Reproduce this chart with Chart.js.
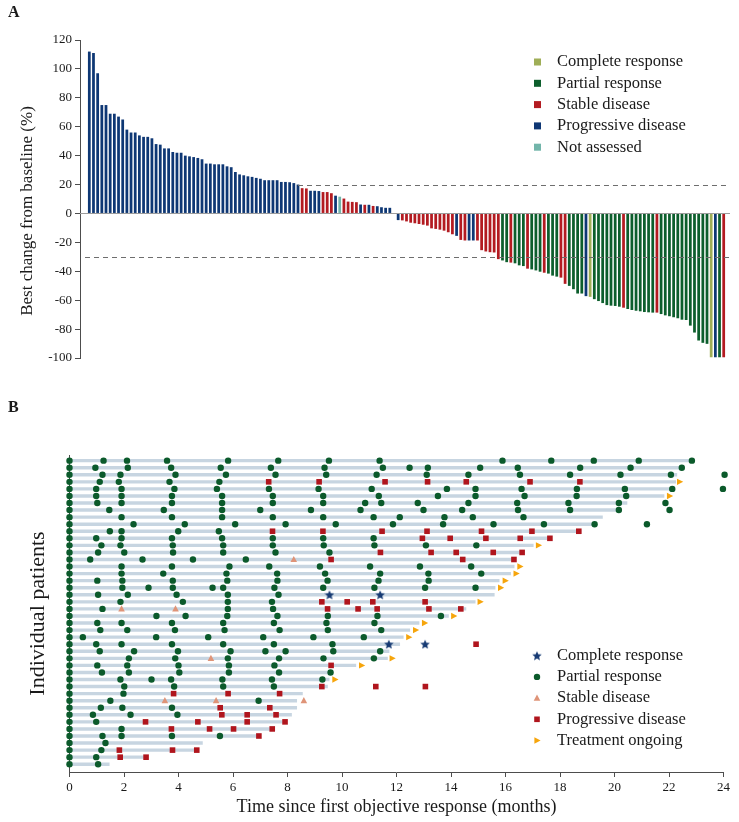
<!DOCTYPE html>
<html>
<head>
<meta charset="utf-8">
<script src="https://cdn.jsdelivr.net/npm/chart.js@4.4.1/dist/chart.umd.min.js"></script>
<style>
  html, body { margin: 0; padding: 0; background: #fff; }
  #panel-a { position: absolute; left: 0; top: 0; width: 739px; height: 395px; }
  #panel-b { position: absolute; left: 0; top: 395px; width: 739px; height: 427px; }
</style>
</head>
<body>
<div id="panel-a"><canvas id="waterfall"></canvas></div>
<div id="panel-b"><canvas id="swimmer"></canvas></div>
<script>
(function () {
  'use strict';

  // ---- panel A: best change from baseline, one bar per patient ----
  var bestChange = [
    112, 111, 97, 75, 75, 69, 69, 67, 65, 58, 56, 56, 54, 53, 53, 52, 48, 47.6, 45, 45,
    42.5, 42, 42, 40, 39.5, 39, 38.4, 37.5, 34.5, 34.5, 34, 34, 34, 32.6, 32, 28.7, 27, 26.4, 25.7, 25.3,
    24.6, 24, 23, 23, 23, 23, 21.8, 21.8, 21.6, 21, 20,
    17.5, 17.3, 15.7, 15.7, 15.5, 14.8, 14.8, 14, 12.3, 11.6, 10.3, 8.2, 8, 7.8, 6.2, 6, 6, 5.2, 5,
    4.3, 3.9, 3.9, 0,
    -4.6, -4.8, -5.5, -6.4, -6.8, -7.3, -7.8, -8.4, -10.3, -10.7, -11.2, -11.9, -13, -14.4, -15.5,
    -18.3, -18.7, -18.7, -18.7, -18.7, -25.4, -26.3, -26.8, -27, -31.6,
    -32.5, -33.7, -34, -34.5, -35.9, -36.4, -38.2, -38.7, -39.4, -40.3, -41, -41.6, -43, -43.7, -44.4,
    -48.7, -50.1, -52.4, -55.4, -55.4, -57.2, -57.7, -59.3, -60.6, -62, -63.4, -63.8, -64, -64.5, -65.2,
    -66.1, -66.8, -67.3, -67.7, -68.2, -68.4, -68.6, -68.6, -69.6, -70.5, -71.1, -71.8, -72.5, -73.5, -73.7,
    -77.6, -82.4, -87.9, -89.5, -90.2, -99.5, -99.5, -99.5, -99.5
  ];
  var bestResponse = [
    'PD','PD','PD','PD','PD','PD','PD','PD','PD','PD','PD','PD','PD','PD','PD','PD','PD','PD','PD','PD',
    'PD','PD','PD','PD','PD','PD','PD','PD','PD','PD','PD','PD','PD','PD','PD','PD','PD','PD','PD','PD',
    'PD','PD','PD','PD','PD','PD','PD','PD','PD','PD','PD',
    'SD','SD','PD','PD','PD','SD','SD','SD','PD','NA','SD','SD','SD','SD','PD','SD','PD','SD','PD',
    'PD','PD','PD','SD',
    'PD','SD','SD','SD','SD','SD','SD','SD','SD','SD','SD','SD','SD','SD','PD',
    'SD','SD','PD','PD','SD','SD','SD','SD','SD','SD',
    'PR','PR','SD','PR','PR','PR','SD','PR','PR','PR','SD','PR','PR','PR','SD',
    'SD','PR','PR','PR','PR','PD','CR','PR','PR','PR','PR','PR','PR','PR','SD',
    'PR','PR','PR','PR','PR','PR','PR','SD','PR','PR','PR','PR','PR','PR','PR',
    'PR','PR','PR','PR','PR','CR','PD','PR','SD'
  ];
  var responseOrder = ['CR', 'PR', 'SD', 'PD', 'NA'];
  var responseNames = ['Complete response', 'Partial response', 'Stable disease', 'Progressive disease', 'Not assessed'];
  var upperCut = 20;
  var lowerCut = -30;

  // ---- panel B: swimmer plot, one lane per patient (top to bottom) ----
  var laneEnds = [
    22.8, 22.47, 22.3, 22.26, 22.2, 21.83, 20.47, 20.2, 19.57, 19.3, 18.78, 17.7, 17.03, 16.7, 16.39,
    16.33, 16.2, 15.78, 15.63, 15.6, 14.9, 14.56, 13.92, 12.84, 12.5, 12.26, 12.13, 11.74, 11.68, 10.52,
    9.6, 9.54, 9.48, 8.56, 8.35, 8.35, 8.16, 7.95, 7.46, 6.95, 4.89, 4.75, 2.87, 1.47
  ];
  var partialAt = [
    [0, 1.25, 2.11, 3.58, 5.82, 7.66, 9.52, 11.38, 15.89, 17.68, 19.24, 20.89, 22.84],
    [0, 0.95, 2.14, 3.73, 5.55, 7.39, 9.36, 11.5, 12.48, 13.15, 15.07, 16.45, 18.74, 20.59, 22.47],
    [0, 1.21, 1.87, 3.89, 5.74, 7.56, 9.42, 11.27, 13.11, 14.64, 16.53, 18.37, 20.22, 22.07, 24.04],
    [0, 1.11, 1.81, 3.67, 5.5],
    [0, 0.98, 1.91, 3.85, 5.41, 7.32, 9.14, 11.09, 13.85, 14.9, 16.59, 18.62, 20.38, 22.12, 23.98],
    [0, 0.98, 1.91, 3.76, 5.6, 7.46, 9.31, 11.35, 13.52, 14.9, 16.7, 18.61, 20.43],
    [0, 1.02, 1.91, 3.76, 5.6, 7.46, 9.31, 10.85, 11.44, 12.78, 14.64, 16.43, 18.31, 20.16, 21.87],
    [0, 1.46, 3.46, 5.6, 7.0, 8.86, 10.68, 12.99, 14.41, 16.46, 18.37, 20.16, 22.02],
    [0, 1.91, 3.76, 5.6, 7.46, 9.31, 11.16, 12.12, 13.76, 14.8, 16.66],
    [0, 2.35, 4.23, 6.08, 7.93, 9.77, 11.87, 13.71, 15.56, 17.41, 19.27, 21.19],
    [0, 1.48, 1.91, 3.99, 5.48],
    [0, 0.98, 1.91, 3.76, 5.6, 7.46, 9.31, 11.16],
    [0, 1.17, 1.87, 3.79, 5.64, 7.46, 9.33, 11.19, 13.08, 14.93],
    [0, 1.05, 2.01, 3.8, 5.64, 7.56, 9.54],
    [0, 0.76, 2.68, 4.53, 6.47],
    [0, 1.91, 3.76, 5.87, 7.33, 9.19, 11.03, 12.86, 14.74],
    [0, 1.91, 3.44, 5.76, 7.62, 9.38, 11.4, 13.17, 15.11],
    [0, 1.02, 1.94, 3.79, 5.79, 7.63, 9.47, 11.34, 13.18],
    [0, 1.94, 2.9, 3.79, 5.25, 5.64, 7.52, 9.31, 11.19, 13.05, 14.9],
    [0, 1.05, 2.14, 3.93, 5.81, 7.67],
    [0, 1.87, 4.16, 5.81, 7.43],
    [0, 1.21, 5.81, 7.47],
    [0, 3.19, 4.26, 5.79, 7.63, 9.48, 11.3, 13.63],
    [0, 1.02, 1.91, 3.76, 5.64, 7.5, 9.43, 11.19],
    [0, 1.13, 2.12, 3.87, 5.69, 7.71, 9.48, 11.44],
    [0, 0.49, 3.18, 5.09, 7.11, 8.95, 10.8],
    [0, 0.98, 1.91, 3.76, 5.64, 7.5, 9.65],
    [0, 1.11, 2.37, 3.98, 5.91, 7.19, 7.93, 9.68, 11.4],
    [0, 2.18, 3.88, 5.81, 7.69, 9.32, 11.17],
    [0, 1.02, 2.12, 4.0, 5.85, 7.52],
    [0, 1.19, 2.18, 4.03, 5.85, 7.69, 9.58],
    [0, 1.87, 3.01, 3.73, 5.61, 7.43, 9.28],
    [0, 2.01, 3.84, 5.64, 7.5],
    [0, 1.98],
    [0, 1.5, 6.94],
    [0, 1.15, 1.94, 3.76],
    [0, 0.86, 2.24, 3.96],
    [0, 0.98],
    [0, 1.91],
    [0, 1.21, 1.91, 3.76, 5.52],
    [0, 1.32],
    [0, 1.17],
    [0, 0.98],
    [0, 1.05]
  ];
  var progressionAt = [
    [], [], [], [7.31, 9.16, 11.58, 13.14, 14.56, 16.9, 18.73], [], [], [], [], [], [],
    [7.45, 9.3, 11.47, 13.12, 15.12, 16.97, 18.69], [12.95, 13.97, 15.28, 16.54, 17.63], [],
    [11.41, 13.27, 14.19, 15.55, 16.61], [9.6, 14.43, 16.31], [], [], [], [], [],
    [9.26, 10.19, 11.13, 13.05], [9.47, 10.59, 11.29, 13.19, 14.36], [], [], [], [], [14.92], [], [],
    [9.6], [], [], [9.26, 11.24, 13.06], [3.82, 5.82, 7.71], [], [5.53, 7.35], [5.59, 6.52, 7.58],
    [2.79, 4.71, 6.52, 7.91], [3.74, 5.14, 6.02, 7.44], [6.95], [], [1.83, 3.78, 4.67], [1.86, 2.81], []
  ];
  // [lane, month]
  var completeAt = [[19, 9.54], [19, 11.4], [26, 11.72], [26, 13.05]];
  var stableAt = [[14, 8.23], [21, 1.91], [21, 3.89], [28, 5.19], [34, 3.5], [34, 5.38], [34, 8.6]];
  var ongoingAt = [
    null, null, null, 22.39, null, 22.02, null, null, null, null, null, null, 17.21, null, null,
    16.53, 16.39, 15.99, 15.82, null, 15.07, null, 14.1, 13.03, 12.7, 12.45, null, null, 11.84, 10.72,
    null, 9.74, null, null, null, null, null, null, null, null, null, null, null, null
  ];

  var serif = "'Liberation Serif', 'Times New Roman', serif";
  var ink = '#1a1a1a';
  var axisGrey = '#4d4d4d';
  var barColors = { CR: '#9fae57', PR: '#0c5e2c', SD: '#b31b21', PD: '#0e3774', NA: '#72b5aa' };
  var markColors = { CR: '#163a73', PR: '#0b5a2b', SD: '#df9478', PD: '#b0151d', ON: '#f6a50c' };

  function makeStar(size, color) {
    var c = document.createElement('canvas');
    c.width = size;
    c.height = size;
    var g = c.getContext('2d');
    var r = size / 2, inner = r * 0.45;
    g.fillStyle = color;
    g.beginPath();
    for (var i = 0; i < 10; i++) {
      var rad = i % 2 === 0 ? r : inner;
      var a = -Math.PI / 2 + i * Math.PI / 5;
      g.lineTo(r + rad * Math.cos(a), r + 0.4 + rad * Math.sin(a));
    }
    g.closePath();
    g.fill();
    return c;
  }
  var starMark = makeStar(10, markColors.CR);

  function drawMark(ctx, kind, x, y) {
    if (kind === 'CR') {
      ctx.drawImage(starMark, x - 5, y - 5);
      return;
    }
    ctx.fillStyle = markColors[kind];
    ctx.beginPath();
    if (kind === 'PR') {
      ctx.arc(x, y, 3.2, 0, Math.PI * 2);
    } else if (kind === 'PD') {
      ctx.rect(x - 2.8, y - 2.8, 5.6, 5.6);
    } else if (kind === 'SD') {
      ctx.moveTo(x, y - 3.6); ctx.lineTo(x + 3.3, y + 2.6); ctx.lineTo(x - 3.3, y + 2.6);
    } else {
      ctx.moveTo(x + 3.6, y); ctx.lineTo(x - 2.6, y - 3.2); ctx.lineTo(x - 2.6, y + 3.2);
    }
    ctx.closePath();
    ctx.fill();
  }

  function panelLetter(letter) {
    return {
      id: 'letter' + letter,
      afterDraw: function (chart) {
        var ctx = chart.ctx;
        ctx.save();
        ctx.font = 'bold 16px ' + serif;
        ctx.fillStyle = ink;
        ctx.textBaseline = 'middle';
        ctx.fillText(letter, 8, 13);
        ctx.restore();
      }
    };
  }

  var waterfallGuides = {
    id: 'waterfallGuides',
    afterDatasetsDraw: function (chart) {
      var ctx = chart.ctx, area = chart.chartArea;
      var xs = chart.scales.x, ys = chart.scales.y;
      ctx.save();
      ctx.lineWidth = 1;
      ctx.strokeStyle = '#9c9c9c';
      var y0 = Math.round(ys.getPixelForValue(0)) + 0.5;
      ctx.beginPath(); ctx.moveTo(area.left, y0); ctx.lineTo(area.right + 2, y0); ctx.stroke();
      ctx.strokeStyle = '#6e6e6e';
      ctx.setLineDash([5, 4]);
      var firstBelow = 1;
      for (var i = 0; i < bestChange.length; i++) {
        if (bestChange[i] <= upperCut) { firstBelow = i + 1; break; }
      }
      var yu = Math.round(ys.getPixelForValue(upperCut)) + 0.5;
      ctx.beginPath(); ctx.moveTo(xs.getPixelForValue(firstBelow), yu); ctx.lineTo(area.right + 2, yu); ctx.stroke();
      var yl = Math.round(ys.getPixelForValue(lowerCut)) + 0.5;
      ctx.beginPath(); ctx.moveTo(area.left + 5, yl); ctx.lineTo(area.right + 2, yl); ctx.stroke();
      ctx.restore();
    },
    afterDraw: function (chart) {
      var ctx = chart.ctx, area = chart.chartArea;
      ctx.save();
      ctx.font = '16.5px ' + serif;
      ctx.textBaseline = 'middle';
      responseOrder.forEach(function (code, i) {
        var y = 62 + i * 21.3;
        ctx.fillStyle = barColors[code];
        ctx.fillRect(534, y - 3.5, 7, 7);
        ctx.fillStyle = ink;
        ctx.fillText(responseNames[i], 557, y);
      });
      // y axis title, centred a little below the middle as in the figure
      ctx.translate(28, (area.top + area.bottom) / 2 + 12);
      ctx.rotate(-Math.PI / 2);
      ctx.textAlign = 'center';
      ctx.font = '17px ' + serif;
      ctx.fillText('Best change from baseline (%)', 0, 0);
      ctx.restore();
    }
  };

  new Chart(document.getElementById('waterfall'), {
    type: 'bar',
    data: {
      datasets: [{
        data: bestChange.map(function (v, i) { return { x: i + 1, y: v }; }),
        backgroundColor: bestResponse.map(function (c) { return barColors[c]; }),
        barPercentage: 0.66,
        categoryPercentage: 1
      }]
    },
    options: {
      responsive: true,
      maintainAspectRatio: false,
      animation: false,
      layout: { padding: { left: 16, right: 11, top: 40, bottom: 37 } },
      plugins: { legend: { display: false }, tooltip: { enabled: false } },
      scales: {
        x: { type: 'linear', offset: false, min: -1.23, max: 154.03, display: false },
        y: {
          min: -100,
          max: 120,
          ticks: { stepSize: 20, color: ink, padding: 3, font: { family: serif, size: 13 } },
          grid: { drawOnChartArea: false, drawTicks: true, tickLength: 5, color: axisGrey },
          border: { color: axisGrey },
          afterFit: function (scale) { scale.width = 64; }
        }
      }
    },
    plugins: [waterfallGuides, panelLetter('A')]
  });

  // ---- swimmer ----
  function lanePoints(rows) {
    var pts = [];
    rows.forEach(function (months, lane) {
      months.forEach(function (m) { pts.push({ x: m, y: lane }); });
    });
    return pts;
  }
  function pairPoints(pairs) {
    return pairs.map(function (p) { return { x: p[1], y: p[0] }; });
  }

  var laneSets = laneEnds.map(function (end, lane) {
    return {
      type: 'line',
      data: [{ x: 0, y: lane }, { x: end, y: lane }],
      borderColor: '#c7d5e1',
      borderWidth: 3.4,
      pointRadius: 0,
      order: 10
    };
  });

  var markerSets = [
    { kind: 'PR', data: lanePoints(partialAt) },
    { kind: 'PD', data: lanePoints(progressionAt) },
    { kind: 'SD', data: pairPoints(stableAt) },
    { kind: 'CR', data: pairPoints(completeAt) },
    {
      kind: 'ON',
      data: ongoingAt.map(function (m, lane) { return m === null ? null : { x: m, y: lane }; })
        .filter(function (p) { return p !== null; })
    }
  ].map(function (s) {
    return { type: 'scatter', kind: s.kind, data: s.data, pointRadius: 0, order: 1 };
  });

  var swimmerMarks = {
    id: 'swimmerMarks',
    afterDatasetsDraw: function (chart) {
      var ctx = chart.ctx, xs = chart.scales.x, ys = chart.scales.y;
      ctx.save();
      chart.data.datasets.forEach(function (ds) {
        if (!ds.kind) return;
        ds.data.forEach(function (p) {
          drawMark(ctx, ds.kind, xs.getPixelForValue(p.x), ys.getPixelForValue(p.y));
        });
      });
      ctx.restore();
    },
    afterDraw: function (chart) {
      var ctx = chart.ctx;
      var kinds = ['CR', 'PR', 'SD', 'PD', 'ON'];
      var names = ['Complete response', 'Partial response', 'Stable disease', 'Progressive disease', 'Treatment ongoing'];
      ctx.save();
      ctx.font = '16.5px ' + serif;
      ctx.textBaseline = 'middle';
      kinds.forEach(function (k, i) {
        var y = 260.7 + i * 21.2;
        drawMark(ctx, k, 537, y);
        ctx.fillStyle = ink;
        ctx.fillText(names[i], 557, y);
      });
      ctx.restore();
    }
  };

  new Chart(document.getElementById('swimmer'), {
    type: 'scatter',
    data: { datasets: laneSets.concat(markerSets) },
    options: {
      responsive: true,
      maintainAspectRatio: false,
      animation: false,
      layout: { padding: { left: 22, right: 15.5, top: 60, bottom: 0 } },
      plugins: { legend: { display: false }, tooltip: { enabled: false } },
      scales: {
        x: {
          type: 'linear',
          min: 0,
          max: 24,
          ticks: { stepSize: 2, color: ink, padding: 3, font: { family: serif, size: 13 } },
          grid: { drawOnChartArea: false, drawTicks: true, tickLength: 5, color: axisGrey },
          border: { color: axisGrey },
          title: {
            display: true,
            text: 'Time since first objective response (months)',
            color: ink,
            padding: { top: 0, bottom: 4 },
            font: { family: serif, size: 18 }
          },
          afterFit: function (scale) { scale.height = 50; }
        },
        y: {
          type: 'linear',
          reverse: true,
          min: -0.8,
          max: 44.1,
          ticks: { display: false },
          grid: { display: false },
          border: { color: axisGrey },
          title: {
            display: true,
            text: 'Individual patients',
            color: ink,
            padding: { top: 3, bottom: 0 },
            font: { family: serif, size: 22 }
          },
          afterFit: function (scale) { scale.width = 47.5; }
        }
      }
    },
    plugins: [swimmerMarks, panelLetter('B')]
  });
})();
</script>
</body>
</html>
